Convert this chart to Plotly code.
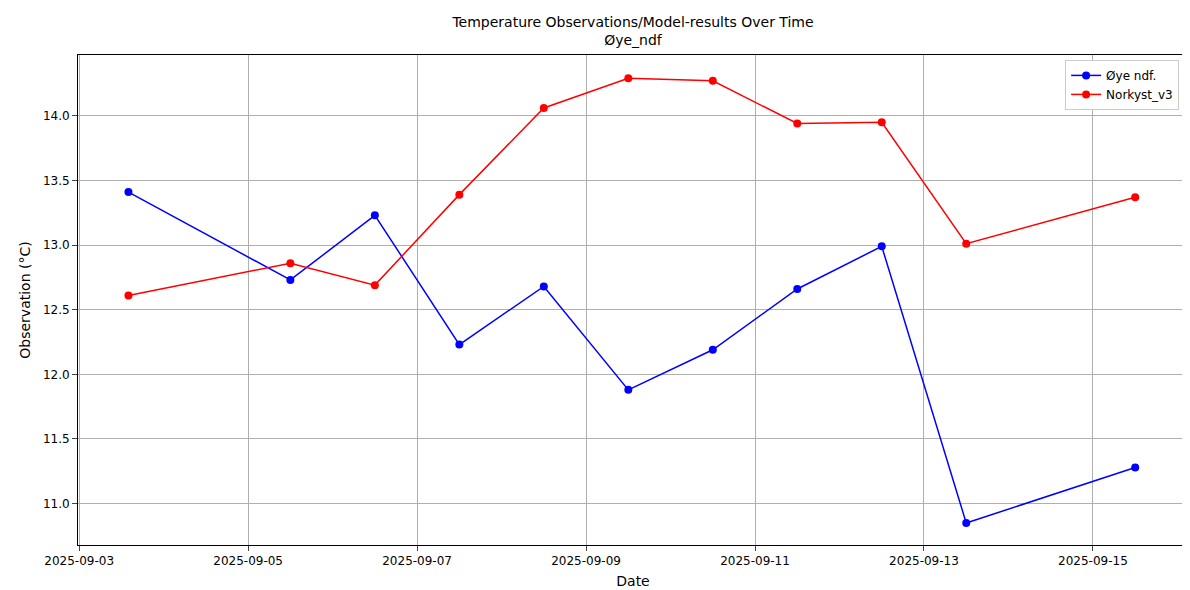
import plotly.graph_objects as go

dates = ["2025-09-03 14:00", "2025-09-05 12:00", "2025-09-06 12:00", "2025-09-07 12:00",
         "2025-09-08 12:00", "2025-09-09 12:00", "2025-09-10 12:00", "2025-09-11 12:00",
         "2025-09-12 12:00", "2025-09-13 12:00", "2025-09-15 12:00"]
obs = [13.41, 12.73, 13.23, 12.23, 12.68, 11.88, 12.19, 12.66, 12.99, 10.85, 11.28]
model = [12.61, 12.86, 12.69, 13.39, 14.06, 14.29, 14.27, 13.94, 13.95, 13.01, 13.37]
tickvals = ["2025-09-03", "2025-09-05", "2025-09-07", "2025-09-09", "2025-09-11", "2025-09-13", "2025-09-15"]

fig = go.Figure()
fig.add_trace(go.Scatter(x=dates, y=obs, mode="lines+markers", name="Øye ndf.",
                         line=dict(color="blue", width=1.5), marker=dict(size=8, color="blue")))
fig.add_trace(go.Scatter(x=dates, y=model, mode="lines+markers", name="Norkyst_v3",
                         line=dict(color="red", width=1.5), marker=dict(size=8, color="red")))
fig.update_layout(
    width=1190, height=590, plot_bgcolor="white", paper_bgcolor="white",
    font=dict(family="DejaVu Sans", size=12, color="black"),
    margin=dict(l=70, r=10, t=47, b=53, autoexpand=False),
    title=dict(text="Temperature Observations/Model-results Over Time<br>Øye_ndf", x=0.5, xanchor="center",
               xref="paper", yref="container", y=0.968, yanchor="top", font=dict(size=14)),
    legend=dict(x=0.992, y=0.99, xanchor="right", yanchor="top", bordercolor="#cccccc", borderwidth=1,
                bgcolor="white", font=dict(size=12)),
    xaxis=dict(title=dict(text="Date", standoff=8), range=["2025-09-02 23:40", "2025-09-16 03:00"],
               tickvals=tickvals, ticktext=tickvals, showgrid=True, gridcolor="#b0b0b0", automargin=False,
               showline=True, linecolor="black", mirror=True, ticks="outside", zeroline=False),
    yaxis=dict(title=dict(text="Observation (°C)", standoff=8), range=[10.68, 14.47], dtick=0.5,
               tickformat=".1f", showgrid=True, gridcolor="#b0b0b0", automargin=False,
               showline=True, linecolor="black", mirror=True, ticks="outside", zeroline=False),
)
fig.write_html("out.html")
